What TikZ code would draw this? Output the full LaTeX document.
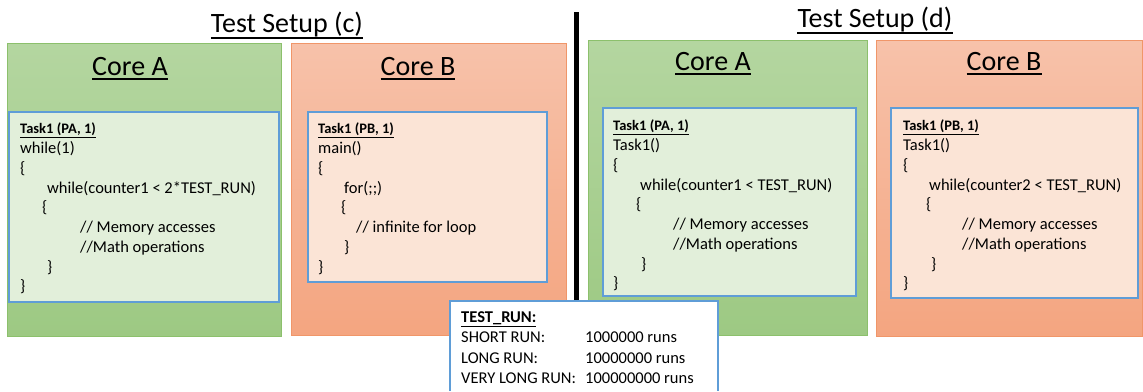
\documentclass[tikz,border=0pt]{standalone}
\usepackage{fontspec}
\setmainfont{Carlito}
\begin{document}
\begin{tikzpicture}[x=1pt,y=-1pt,
  greenpanel/.style={draw=greenb, top color=green1, bottom color=green2, line width=0.8pt},
  orangepanel/.style={draw=orange1b, top color=orange1, bottom color=orange2, line width=0.8pt},
  greentask/.style={draw=taskblue, fill=greenin, line width=1.2pt},
  orangetask/.style={draw=taskblue, fill=orangein, line width=1.2pt},
  title/.style={font=\fontsize{28}{32}\selectfont, inner sep=0pt, anchor=base},
  code/.style={font=\fontsize{16.5}{19.75}\selectfont, inner sep=0pt, anchor=north west, align=left},
  ulline/.style={line width=1.6pt}]
\definecolor{green1}{RGB}{180,214,160}
\definecolor{green2}{RGB}{157,201,131}
\definecolor{greenb}{RGB}{140,192,108}
\definecolor{orange1}{RGB}{247,194,170}
\definecolor{orange2}{RGB}{244,165,128}
\definecolor{orange1b}{RGB}{240,150,105}
\definecolor{greenin}{RGB}{226,239,218}
\definecolor{orangein}{RGB}{251,228,214}
\definecolor{taskblue}{RGB}{95,157,215}
\useasboundingbox (0,0) rectangle (1143,391);
\fill[white] (0,0) rectangle (1143,391);
\newcommand{\hd}[1]{{\fontsize{14.5}{19.75}\selectfont\bfseries\underline{#1}}}
\newcommand{\ind}[1]{\hspace*{#1pt}}

% divider
\coordinate (divtop) at (576.5,12);
\coordinate (divbot) at (576.5,301);
\draw[line width=5.5pt, black] (divtop) -- (divbot);

% panels setup (c)
\path[greenpanel] (7,43) rectangle (281,336);
\path[orangepanel] (291,43) rectangle (566,335);
% panels setup (d)
\path[greenpanel] (588,40) rectangle (867,335);
\path[orangepanel] (876,40) rectangle (1142,336);

% titles
\node[title] (tc) at (287,32) {Test Setup (c)};
\node[title] (td) at (875,27) {Test Setup (d)};
\node[title] (cac) at (130,75) {Core A};
\node[title] (cbc) at (418,75) {Core B};
\node[title] (cad) at (713,70) {Core A};
\node[title] (cbd) at (1004,70) {Core B};
\foreach \n in {tc,td}{
  \draw[ulline] ([yshift=-6pt]\n.base west) -- ([yshift=-6pt]\n.base east);}
\foreach \n in {cac,cbc,cad,cbd}{
  \draw[ulline] ([yshift=-4pt]\n.base west) -- ([yshift=-4pt]\n.base east);}

% task boxes
\path[greentask] (9,112) rectangle (279,302);
\path[orangetask] (308,112) rectangle (547,282);
\path[greentask] (603,108) rectangle (856,296);
\path[orangetask] (891,108) rectangle (1138,298);

\node[code] (codeac) at (20,123) {\hd{Task1 (PA, 1)}\\
while(1)\\
\{\\
\ind{27}while(counter1 < 2*TEST\_RUN)\\
\ind{22}\{\\
\ind{60}// Memory accesses\\
\ind{60}//Math operations\\
\ind{27}\}\\
\}};

\node[code] (codebc) at (318,123) {\hd{Task1 (PB, 1)}\\
main()\\
\{\\
\ind{26}for(;;)\\
\ind{23}\{\\
\ind{38}// infinite for loop\\
\ind{26}\}\\
\}};

\node[code] (codead) at (613,120) {\hd{Task1 (PA, 1)}\\
Task1()\\
\{\\
\ind{27}while(counter1 < TEST\_RUN)\\
\ind{23}\{\\
\ind{60}// Memory accesses\\
\ind{60}//Math operations\\
\ind{28}\}\\
\}};

\node[code] (codebd) at (903,120) {\hd{Task1 (PB, 1)}\\
Task1()\\
\{\\
\ind{26}while(counter2 < TEST\_RUN)\\
\ind{23}\{\\
\ind{59}// Memory accesses\\
\ind{59}//Math operations\\
\ind{28}\}\\
\}};

% TEST_RUN box
\fill[white] (450,301) rectangle (718,391);
\draw[taskblue, line width=1.2pt] (450,391) -- (450,301) -- (718,301) -- (718,391);
\node[code, font=\fontsize{16.5}{20.6}\selectfont] (testrun) at (461,311) {{\bfseries\underline{TEST\_RUN:}}\\
\makebox[124pt][l]{SHORT RUN:}1000000 runs\\
\makebox[124pt][l]{LONG RUN:}10000000 runs\\
\makebox[124pt][l]{VERY LONG RUN:}100000000 runs};
\end{tikzpicture}
\end{document}
